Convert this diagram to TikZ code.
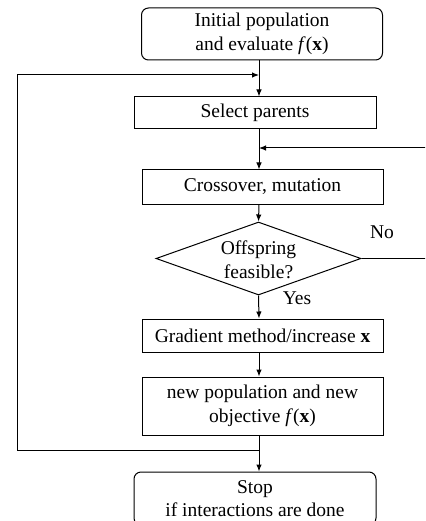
\documentclass[tikz,border=0pt]{standalone}
\usepackage{fontspec}
\setmainfont{Liberation Serif}
\usetikzlibrary{shapes.geometric,arrows.meta}
\begin{document}
\begin{tikzpicture}[x=1pt,y=-1pt,
  font=\fontsize{19.5}{23.5}\selectfont,
  every node/.style={inner sep=0pt,align=center},
  box/.style={draw,line width=1pt,minimum width=241pt},
  rbox/.style={box,rounded corners=7pt},
  ln/.style={line width=1pt},
  arr/.style={ln,-{Latex[length=7pt,width=5.5pt]}}]
\useasboundingbox (0,0) rectangle (425,521);
\clip (0,0) rectangle (425,521);
\node[rbox,minimum height=52pt] (top) at (262,34) {Initial population\\and evaluate \textit{f}(\textbf{x})};
\node[box,minimum width=242pt,minimum height=32pt] (sel) at (255,113) {Select parents};
\node[box,minimum height=34pt] (cro) at (262.5,187) {Crossover, mutation};
\node[draw,line width=1pt,shape=diamond,minimum width=205pt,minimum height=73pt,inner sep=0pt,aspect=2.8] (dia) at (258.5,258.5) {};
\node (dtxt) at (258.5,260) {Offspring\\feasible?};
\node[box,minimum height=33pt] (gra) at (262.5,335.5) {Gradient method/increase \textbf{x}};
\node[box,minimum height=58pt] (new) at (262.5,406) {new population and new\\objective \textit{f}(\textbf{x})};
\node[rbox,minimum width=242pt,minimum height=53pt] (stop) at (255,498.5) {Stop\\if interactions are done};
\node (no) at (382,232) {No};
\node (yes) at (297,298) {Yes};
\coordinate (ax) at (259,0);
\coordinate (jt) at (259,75);
\coordinate (jm) at (259,148);
\coordinate (jb) at (259,450);
\coordinate (lt) at (17,75);
\coordinate (lb) at (17,450);
\coordinate (rt) at (428,148);
\coordinate (rb) at (428,258.5);
% main flow
\draw[arr] (top.south -| ax) -- (sel.north -| ax);
\draw[arr] (sel.south -| ax) -- (cro.north -| ax);
\draw[arr] (cro.south -| ax) -- (dia.north);
\draw[arr] (dia.south) -- (gra.north -| ax);
\draw[arr] (gra.south -| ax) -- (new.north -| ax);
\draw[arr] (new.south -| ax) -- (stop.north -| ax);
% left feedback
\draw[arr] (jb) -- (lb) -- (lt) -- (jt);
% right feedback
\draw[arr] (dia.east) -- (rb) -- (rt) -- (jm);
\end{tikzpicture}
\end{document}
